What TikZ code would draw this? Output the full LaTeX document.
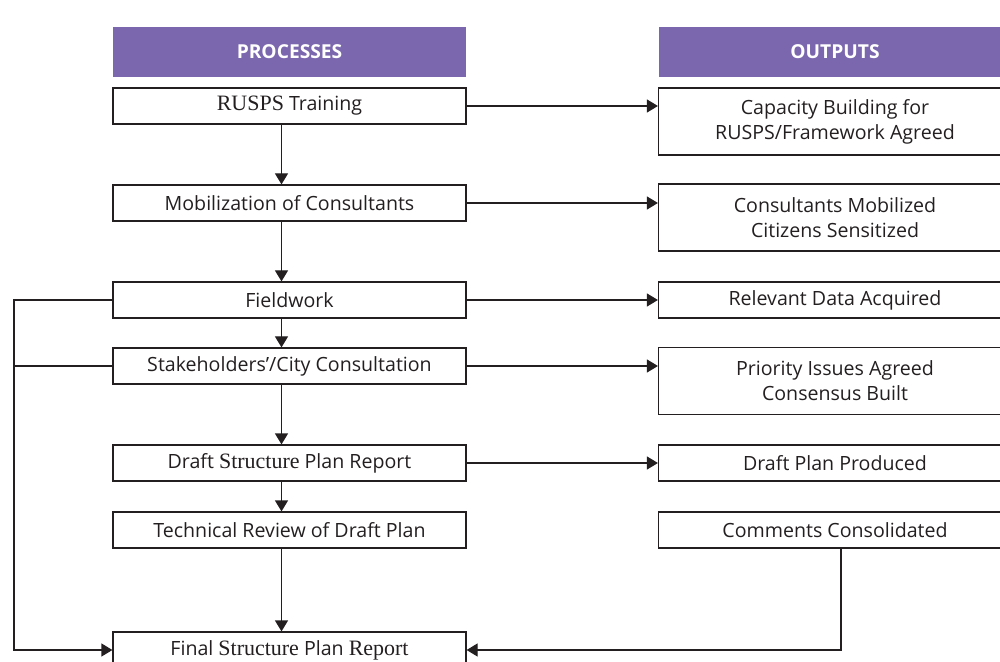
\documentclass[tikz,border=0pt]{standalone}
\usepackage{fontspec}
\setmainfont{Open Sans}
\newfontfamily\serifpart[Scale=1.12]{Liberation Serif}
\usetikzlibrary{arrows.meta}
\definecolor{headviolet}{HTML}{7B67AE}
\definecolor{inkgrey}{HTML}{231F20}
\newcommand{\srf}[1]{{\serifpart #1}}
\tikzset{
  procbox/.style={draw=inkgrey, line width=0.6pt, minimum width=176.5pt, minimum height=18pt,
    inner sep=0pt, text=inkgrey, align=center, font=\fontsize{9.8}{12.5}\selectfont},
  tallbox/.style={procbox, minimum height=33.5pt},
  headbox/.style={fill=headviolet, minimum width=176.5pt, minimum height=25pt, inner sep=0pt,
    text=white, font=\bfseries\fontsize{9.6}{11}\selectfont},
  flow/.style={draw=inkgrey, line width=0.6pt, -{Triangle[length=5.5pt,width=6.5pt]}},
  link/.style={draw=inkgrey, line width=0.6pt}
}
\begin{document}
\begin{tikzpicture}[x=0.5pt,y=-0.5pt]
  \useasboundingbox (0,0) rectangle (1000,662);
  \clip (0,0) rectangle (1000,662);
  \node[headbox] (hp) at (289.5,52) {PROCESSES};
  \node[headbox] (ho) at (835,52) {OUTPUTS};

  \node[procbox] (p1) at (289.5,106) {\srf{RUSPS} Training};
  \node[procbox] (p2) at (289.5,203) {Mobilization of Consultants};
  \node[procbox] (p3) at (289.5,300) {Fieldwork};
  \node[procbox] (p4) at (289.5,366) {Stakeholders’/City Consultation};
  \node[procbox] (p5) at (289.5,463) {Draft \srf{Structure} Plan Report};
  \node[procbox] (p6) at (289.5,530) {Technical Review of Draft Plan};
  \node[procbox] (p7) at (289.5,650) {Final \srf{Structure} Plan \srf{Report}};

  \node[tallbox] (o1) at (835,121.5) {Capacity Building for\\RUSPS/Framework Agreed};
  \node[tallbox] (o2) at (835,217.5) {Consultants Mobilized\\Citizens Sensitized};
  \node[procbox] (o3) at (835,300) {Relevant Data Acquired};
  \node[tallbox] (o4) at (835,381) {Priority Issues Agreed\\Consensus Built};
  \node[procbox] (o5) at (835,463) {Draft Plan Produced};
  \node[procbox] (o6) at (835,530) {Comments Consolidated};

  \coordinate (spine) at (281.5,0);
  \coordinate (loopx) at (14,0);
  \coordinate (backx) at (841,0);

  \foreach \a/\b in {p1/p2,p2/p3,p3/p4,p4/p5,p5/p6,p6/p7}
    \draw[flow] (\a.south -| spine) -- (\b.north -| spine);
  \foreach \a/\b in {p1/o1,p2/o2,p3/o3,p4/o4,p5/o5}
    \draw[flow] (\a.east) -- (\a.east -| \b.west);

  \draw[flow] (p3.west) -| (loopx |- p7.west) -- (p7.west);
  \draw[link] (p4.west) -- (p4.west -| loopx);
  \draw[flow] (o6.south -| backx) |- (p7.east);
\end{tikzpicture}
\end{document}
